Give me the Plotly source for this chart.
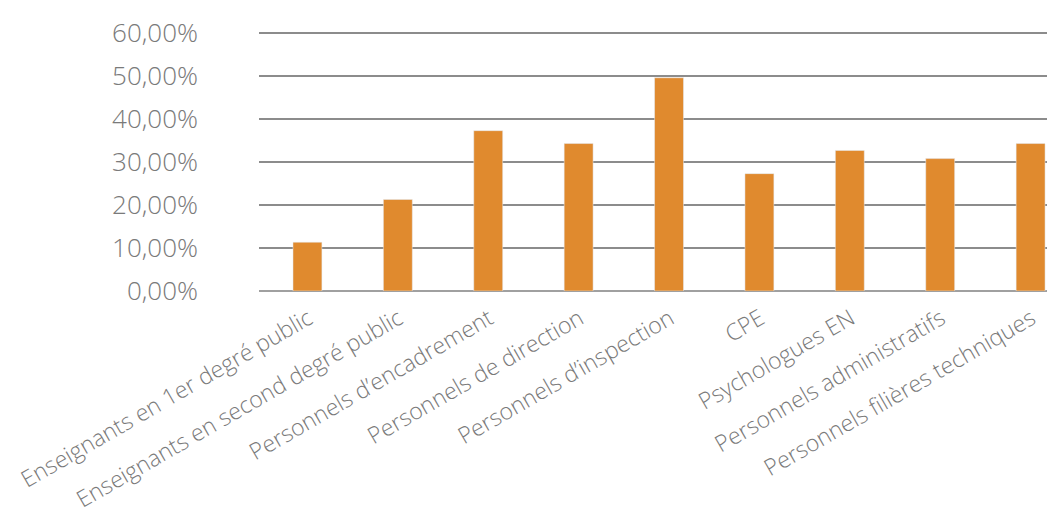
import plotly.graph_objects as go

categories = [
    "Enseignants en 1er degré public",
    "Enseignants en second degré public",
    "Personnels d’encadrement",
    "Personnels de direction",
    "Personnels d’inspection",
    "CPE",
    "Psychologues EN",
    "Personnels administratifs",
    "Personnels filières techniques",
]
values = [0.1135, 0.213, 0.373, 0.343, 0.496, 0.273, 0.327, 0.308, 0.343]
y_ticks = [0, 0.1, 0.2, 0.3, 0.4, 0.5, 0.6]

fig = go.Figure(go.Bar(
    x=categories, y=values, marker_color="#E08A2E", width=0.32,
))

fig.update_layout(
    width=1047, height=510,
    margin=dict(l=251, r=0, t=24, b=227),
    plot_bgcolor="white", paper_bgcolor="white",
    separators=", ",
    showlegend=False,
    font=dict(family="Open Sans", color="#7a7a7a", weight=300),
)
fig.update_xaxes(
    range=[-0.536, 8.27], tickangle=-30, showgrid=False, automargin=False,
    tickfont=dict(size=23, family="Open Sans", color="#7a7a7a", weight=300),
    showline=False, ticks="", ticklabelstandoff=9, ticklabelshift=1,
)
fig.update_yaxes(
    range=[0, 0.6025], tickvals=y_ticks, tickformat=".2%", automargin=False,
    showgrid=True, gridcolor="#8c8c8c", gridwidth=1.5,
    zeroline=True, zerolinecolor="#a0a0a0", zerolinewidth=2,
    tickfont=dict(size=26, family="Open Sans", color="#7a7a7a", weight=300),
    ticklabelstandoff=60, ticks="",
)

fig.write_html("out.html")
